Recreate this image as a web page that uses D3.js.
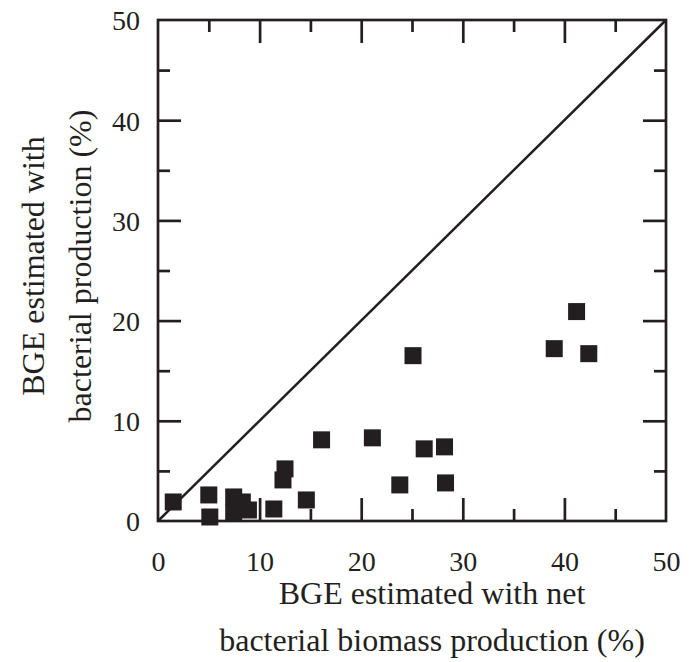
<!DOCTYPE html>
<html>
<head>
<meta charset="utf-8">
<script src="https://cdn.jsdelivr.net/npm/d3@7"></script>
<style>
  html, body { margin: 0; padding: 0; background: #fff; }
  svg { display: block; }
  svg text { font-family: "Liberation Serif", "Times New Roman", Times, "DejaVu Serif", serif; }
</style>
</head>
<body>
<script>
// Data
const xValues = [1.5, 5.0, 5.1, 7.45, 8.3, 8.9, 7.45, 11.4, 12.5, 12.3, 14.6, 16.1, 21.1, 23.8, 25.1, 26.2, 28.2, 28.3, 39.0, 41.2, 42.4];
const yValues = [1.9, 2.6, 0.4, 2.4, 1.9, 1.1, 0.8, 1.2, 5.2, 4.1, 2.1, 8.1, 8.3, 3.6, 16.5, 7.2, 7.4, 3.8, 17.2, 20.9, 16.7];
const majorTicks = [0, 10, 20, 30, 40, 50];
const minorTicks = [5, 15, 25, 35, 45];
const xTitle = ["BGE estimated with net", "bacterial biomass production (%)"];
const yTitle = ["BGE estimated with", "bacterial production (%)"];

const W = 698, H = 662;
const L = 158, T = 20, R = 666, B = 521;
const ink = "#231f20";

const svg = d3.select("body").append("svg").attr("width", W).attr("height", H);

const x = d3.scaleLinear().domain([0, 50]).range([L, R]);
const y = d3.scaleLinear().domain([0, 50]).range([B, T]);

const majLen = 23, minLen = 12, sw = 2.7;

function tickAxis(axisFn, scale, vals, len, transform) {
  const g = svg.append("g").attr("transform", transform)
    .call(axisFn(scale).tickValues(vals).tickSizeInner(-len).tickSizeOuter(0).tickFormat(""));
  g.select(".domain").remove();
  g.selectAll(".tick line").attr("stroke", ink).attr("stroke-width", sw);
  return g;
}
tickAxis(d3.axisBottom, x, majorTicks.slice(1, -1), majLen, `translate(0,${B})`);
tickAxis(d3.axisBottom, x, minorTicks, minLen, `translate(0,${B})`);
tickAxis(d3.axisTop, x, majorTicks.slice(1, -1), majLen, `translate(0,${T})`);
tickAxis(d3.axisTop, x, minorTicks, minLen, `translate(0,${T})`);
tickAxis(d3.axisLeft, y, majorTicks.slice(1, -1), majLen, `translate(${L},0)`);
tickAxis(d3.axisLeft, y, minorTicks, minLen, `translate(${L},0)`);
tickAxis(d3.axisRight, y, majorTicks.slice(1, -1), majLen, `translate(${R},0)`);
tickAxis(d3.axisRight, y, minorTicks, minLen, `translate(${R},0)`);

svg.append("rect").attr("x", L).attr("y", T).attr("width", R - L).attr("height", B - T)
  .attr("fill", "none").attr("stroke", ink).attr("stroke-width", sw);

svg.append("line")
  .attr("x1", x(0)).attr("y1", y(0)).attr("x2", x(50)).attr("y2", y(50))
  .attr("stroke", ink).attr("stroke-width", 2.5);

const xl = svg.append("g").attr("transform", `translate(0,${B})`)
  .call(d3.axisBottom(x).tickValues(majorTicks).tickSize(0).tickPadding(0).tickFormat(d3.format("d")));
xl.select(".domain").remove();
xl.attr("font-family", null);
xl.selectAll("text").attr("dy", null).attr("y", 50)
  .attr("font-size", 28).attr("fill", ink);

const yl = svg.append("g").attr("transform", `translate(${L},0)`)
  .call(d3.axisLeft(y).tickValues(majorTicks).tickSize(0).tickPadding(0).tickFormat(d3.format("d")));
yl.select(".domain").remove();
yl.attr("font-family", null);
yl.selectAll("text").attr("x", -18).attr("dy", "0.35em")
  .attr("font-size", 28).attr("fill", ink);

const S = 17;
svg.append("g").selectAll("rect").data(xValues.map((v, i) => [v, yValues[i]]))
  .join("rect")
  .attr("x", d => x(d[0]) - S / 2).attr("y", d => y(d[1]) - S / 2)
  .attr("width", S).attr("height", S).attr("fill", ink);

svg.append("g").selectAll("text").data(xTitle).join("text")
  .attr("x", 432).attr("y", (d, i) => 604 + i * 47)
  .attr("text-anchor", "middle").attr("font-size", 32).attr("fill", ink)
  .text(d => d);

svg.append("g").selectAll("text").data(yTitle).join("text")
  .attr("transform", (d, i) => `translate(${44 + i * 47},266) rotate(-90)`)
  .attr("text-anchor", "middle").attr("font-size", 32).attr("fill", ink)
  .text(d => d);
</script>
</body>
</html>
